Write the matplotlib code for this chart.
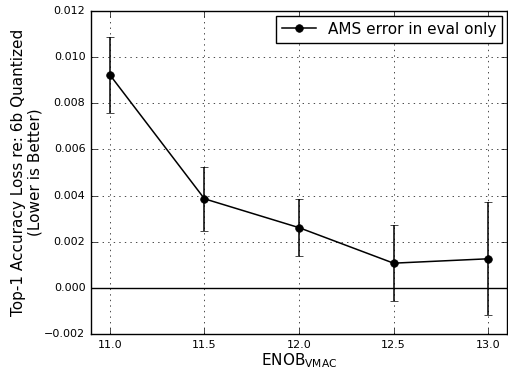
import matplotlib
matplotlib.use("Agg")
import matplotlib.pyplot as plt

plt.style.use("classic")
plt.rcParams.update({"figure.facecolor": "white", "savefig.facecolor": "white",
                     "mathtext.fontset": "dejavusans"})

enob = [11.0, 11.5, 12.0, 12.5, 13.0]
loss = [0.00923, 0.00386, 0.00261, 0.00107, 0.00126]
err = [0.00165, 0.00139, 0.00123, 0.00165, 0.00245]

fig = plt.figure(figsize=(5.08, 3.70), dpi=100)
ax = fig.add_axes([91 / 508, 36 / 370, 416 / 508, 323 / 370])
ax.errorbar(enob, loss, yerr=err, fmt="none", ecolor="black", lw=1.1, capsize=3)
ax.plot(enob, loss, color="black", marker="o", markersize=5.5, lw=1.1,
        label="AMS error in eval only")
ax.axhline(0, color="black", lw=1)
ax.grid(True, ls=":", color="black")
ax.set_xlim(10.9, 13.1)
ax.set_ylim(-0.002, 0.012)
ax.set_xticks([11.0, 11.5, 12.0, 12.5, 13.0])
ax.set_xticklabels(["11.0", "11.5", "12.0", "12.5", "13.0"])
ax.tick_params(labelsize=8)
ax.set_xlabel("ENOB$_{\\mathrm{VMAC}}$", fontsize=11, labelpad=1)
ax.set_ylabel("Top-1 Accuracy Loss re: 6b Quantized\n(Lower is Better)", fontsize=11,
              labelpad=1)
ax.legend(loc="upper right", fontsize=11, numpoints=1, borderaxespad=0.3,
          handlelength=2.2)

fig.savefig("out.png", dpi=100)
